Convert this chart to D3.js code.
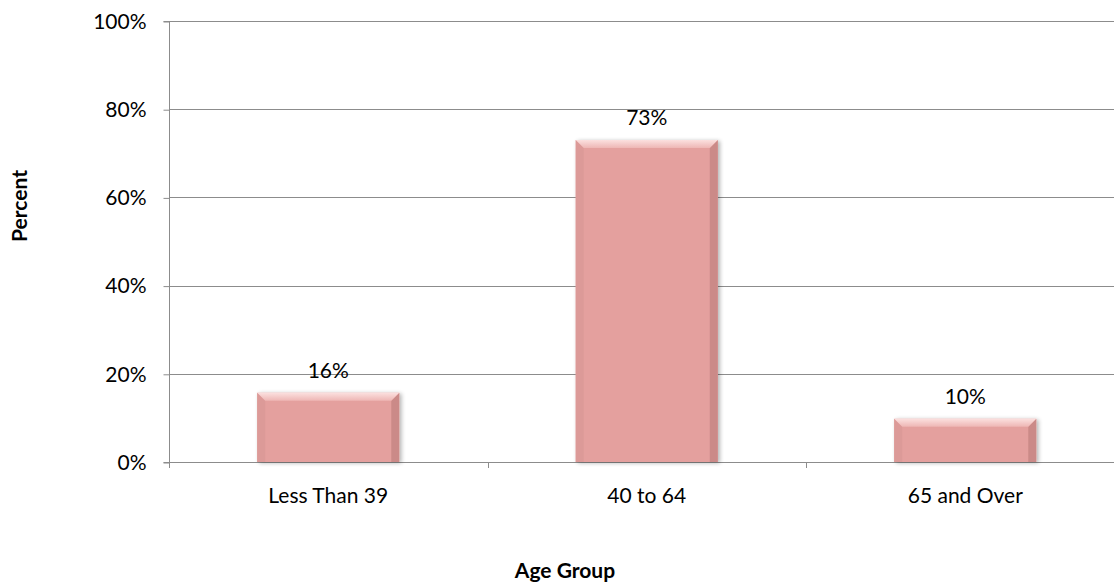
<!DOCTYPE html>
<html>
<head>
<meta charset="utf-8">
<script src="https://cdn.jsdelivr.net/npm/d3@7"></script>
<style>
  body { margin: 0; background: #fff; }
  text { font-family: Lato, "Open Sans", sans-serif; fill: #000; }
</style>
</head>
<body>
<svg id="chart" width="1114" height="584"></svg>
<script>
// data
var categories = ["Less Than 39", "40 to 64", "65 and Over"];
var values = [0.157, 0.73, 0.098];
var yTicks = [0, 0.2, 0.4, 0.6, 0.8, 1.0];

var svg = d3.select("#chart");
var plotLeft = 169, plotRight = 1124.5, plotTop = 21, plotBottom = 462;
var fontSize = "21px";

var x = d3.scaleBand().domain(categories).range([plotLeft, plotRight]).paddingInner(0.554).paddingOuter(0.277);
var y = d3.scaleLinear().domain([0, 1]).range([plotBottom, plotTop]);

var defs = svg.append("defs");
var f = defs.append("filter").attr("id", "shadow").attr("x", "-10%").attr("y", "-10%").attr("width", "125%").attr("height", "125%");
f.append("feGaussianBlur").attr("in", "SourceAlpha").attr("stdDeviation", 2);
f.append("feOffset").attr("dx", 2).attr("dy", 1).attr("result", "b");
f.append("feComponentTransfer").append("feFuncA").attr("type", "linear").attr("slope", 0.3);
var m = f.append("feMerge");
m.append("feMergeNode");
m.append("feMergeNode").attr("in", "SourceGraphic");

var topGrad = defs.append("linearGradient").attr("id", "topbev").attr("x1", 0).attr("y1", 0).attr("x2", 0).attr("y2", 1);
topGrad.append("stop").attr("offset", "0%").attr("stop-color", "#fbe0df");
topGrad.append("stop").attr("offset", "100%").attr("stop-color", "#eeb6b4");

// gridlines
svg.append("g").selectAll("line").data(yTicks.slice(1)).enter().append("line")
    .attr("x1", plotLeft).attr("x2", 1114)
    .attr("y1", function(d) { return Math.round(y(d)) + 0.5; })
    .attr("y2", function(d) { return Math.round(y(d)) + 0.5; })
    .attr("stroke", "#8c8c8c").attr("stroke-width", 1);

// y axis
var yAxis = svg.append("g").attr("transform", "translate(" + (plotLeft + 0.5) + ",0.5)")
    .call(d3.axisLeft(y).tickValues(yTicks).tickFormat(d3.format(".0%")).tickSize(6).tickPadding(17));
yAxis.select(".domain").attr("stroke", "#8c8c8c").attr("d", "M-6," + plotTop + "H0V" + plotBottom + "H-6");
yAxis.selectAll(".tick line").attr("stroke", "#8c8c8c");
yAxis.selectAll(".tick text").style("font-size", fontSize).style("font-family", "Lato, sans-serif");

// x axis
var xAxis = svg.append("g").attr("transform", "translate(0," + (plotBottom + 0.5) + ")")
    .call(d3.axisBottom(x).tickSize(0));
xAxis.select(".domain").attr("stroke", "#8c8c8c").attr("d", "M" + plotLeft + ",0H1114");
xAxis.selectAll(".tick text").attr("y", 40).attr("dy", 0)
    .style("font-size", fontSize).style("font-family", "Lato, sans-serif");
var step = x.step();
svg.append("g").selectAll("line").data(d3.range(categories.length)).enter().append("line")
    .attr("x1", function(i) { return Math.round(plotLeft + step * i) + 0.5; })
    .attr("x2", function(i) { return Math.round(plotLeft + step * i) + 0.5; })
    .attr("y1", plotBottom).attr("y2", plotBottom + 6)
    .attr("stroke", "#8c8c8c");

// bars
var bev = 8;
var bars = svg.append("g").selectAll("g").data(values).enter().append("g")
    .attr("filter", "url(#shadow)");
bars.append("rect")
    .attr("x", function(d, i) { return x(categories[i]); })
    .attr("y", function(d) { return y(d); })
    .attr("width", x.bandwidth())
    .attr("height", function(d) { return plotBottom - y(d); })
    .attr("fill", "#e4a09e");
// bevel: top lighter, sides darker
bars.append("path")
    .attr("d", function(d, i) {
        var x0 = x(categories[i]), y0 = y(d);
        return "M" + x0 + "," + y0 + "L" + (x0 + bev) + "," + (y0 + bev) + "V" + plotBottom + "H" + x0 + "Z";
    })
    .attr("fill", "#dc9a98");
bars.append("path")
    .attr("d", function(d, i) {
        var x1 = x(categories[i]) + x.bandwidth(), y0 = y(d);
        return "M" + x1 + "," + y0 + "L" + (x1 - bev) + "," + (y0 + bev) + "V" + plotBottom + "H" + x1 + "Z";
    })
    .attr("fill", "#cb8a88");
bars.append("path")
    .attr("d", function(d, i) {
        var x0 = x(categories[i]), x1 = x0 + x.bandwidth(), y0 = y(d);
        return "M" + x0 + "," + y0 + "H" + x1 + "L" + (x1 - bev) + "," + (y0 + bev) + "H" + (x0 + bev) + "Z";
    })
    .attr("fill", "url(#topbev)");

// value labels
svg.append("g").selectAll("text").data(values).enter().append("text")
    .attr("x", function(d, i) { return x(categories[i]) + x.bandwidth() / 2; })
    .attr("y", function(d) { return y(d) - 15; })
    .attr("text-anchor", "middle")
    .style("font-size", fontSize)
    .text(function(d) { return d3.format(".0%")(d); });

// axis titles
svg.append("text").attr("x", 565).attr("y", 578).attr("text-anchor", "middle")
    .style("font-size", fontSize).style("font-weight", "bold").text("Age Group");
svg.append("text").attr("transform", "translate(27,206) rotate(-90)").attr("text-anchor", "middle")
    .style("font-size", fontSize).style("font-weight", "bold").text("Percent");
</script>
</body>
</html>
